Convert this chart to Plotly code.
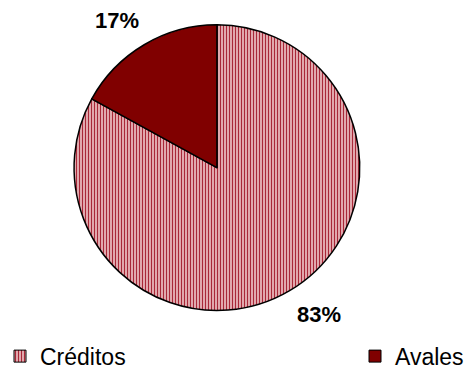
import math
import plotly.graph_objects as go

labels = ["Créditos", "Avales"]
values = [83, 17]
colors = ["#f0c4c8", "#800000"]
patterns = ["|", ""]

W, H = 469, 378
FONT = "Arial, Liberation Sans"
line = dict(color="black", width=1.5)
pat_common = dict(fgcolor="#a82838", bgcolor="#f4d2d4", size=3, solidity=0.5, fillmode="replace")

dom_x = [0.152, 0.773]
dom_y = [0.163, 0.933]

fig = go.Figure()

# main pie
fig.add_trace(go.Pie(
    labels=labels,
    values=values,
    sort=False,
    direction="clockwise",
    rotation=0,
    marker=dict(colors=colors, line=line, pattern=dict(shape=patterns, **pat_common)),
    textinfo="none",
    hoverinfo="label+percent",
    domain=dict(x=dom_x, y=dom_y),
    showlegend=False,
))

# percentage labels outside each slice, placed from slice mid-angles
cx = (dom_x[0] + dom_x[1]) / 2 * W
cy = (dom_y[0] + dom_y[1]) / 2 * H
r = min((dom_x[1] - dom_x[0]) * W, (dom_y[1] - dom_y[0]) * H) / 2
total = sum(values)
cum = 0
for lab, val in zip(labels, values):
    mid = (cum + val / 2) / total * 2 * math.pi
    cum += val
    d = r + 11
    px = cx + d * math.sin(mid)
    py = cy + d * math.cos(mid)
    fig.add_annotation(
        x=px / W, y=py / H, xref="paper", yref="paper",
        text=f"<b>{round(100 * val / total)}%</b>",
        showarrow=False,
        xanchor="left" if math.sin(mid) >= 0 else "right",
        yanchor="bottom" if math.cos(mid) >= 0 else "top",
        xshift=4 if math.sin(mid) < 0 else -2,
        font=dict(family=FONT, size=22, color="black"),
    )

# legend-only entries (each in its own legend so they can sit at opposite sides)
legend_pos = [dict(x=[0.045, 0.046], y=[0.035, 0.036]), dict(x=[0.81, 0.811], y=[0.035, 0.036])]
for i, (lab, val) in enumerate(zip(labels, values)):
    fig.add_trace(go.Pie(
        labels=[lab], values=[val], sort=False,
        marker=dict(colors=[colors[i]], line=dict(color="black", width=1),
                    pattern=dict(shape=[patterns[i]], **pat_common)),
        textinfo="none", hoverinfo="skip",
        domain=legend_pos[i],
        showlegend=True,
        legend="legend" if i == 0 else "legend2",
    ))

leg_font = dict(size=23, family=FONT, color="black")
fig.update_layout(
    width=W, height=H,
    margin=dict(l=0, r=0, t=0, b=0),
    paper_bgcolor="white",
    plot_bgcolor="white",
    font=dict(family=FONT, color="black"),
    legend=dict(orientation="h", x=0.0, xanchor="left", y=0.04, yanchor="middle",
                font=leg_font, bgcolor="rgba(0,0,0,0)"),
    legend2=dict(orientation="h", x=1.0, xanchor="right", y=0.04, yanchor="middle",
                 font=leg_font, bgcolor="rgba(0,0,0,0)"),
)

fig.write_html("out.html")
